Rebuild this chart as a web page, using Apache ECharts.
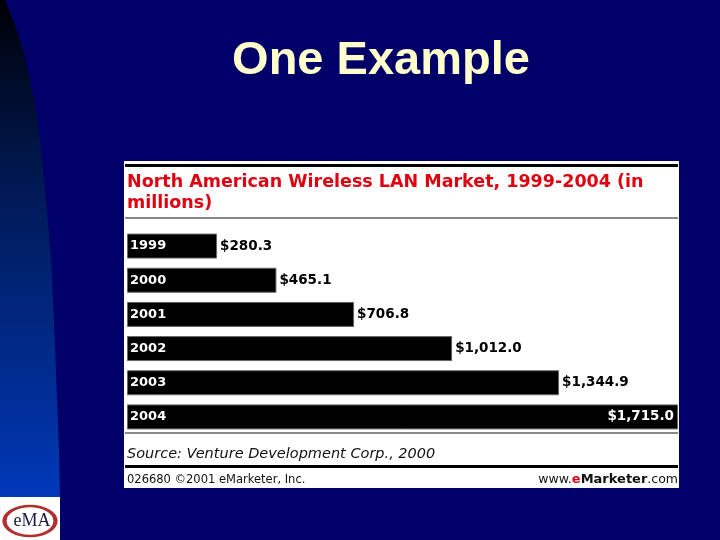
<!DOCTYPE html>
<html>
<head>
<meta charset="utf-8">
<script src="https://cdn.jsdelivr.net/npm/echarts@6/dist/echarts.min.js"></script>
<style>
html,body{margin:0;padding:0;background:#000068;}
#chart{width:720px;height:540px;}
</style>
</head>
<body>
<div id="chart"></div>
<script>
const years = ['1999', '2000', '2001', '2002', '2003', '2004'];
const values = [280.3, 465.1, 706.8, 1012.0, 1344.9, 1715.0];
const slideTitle = 'One Example';
const chartTitle = 'North American Wireless LAN Market, 1999-2004 (in\nmillions)';
const sourceText = 'Source: Venture Development Corp., 2000';
const footerLeft = '026680 \u00A92001 eMarketer, Inc.';

function fmt(v) {
  const parts = v.toFixed(1).split('.');
  parts[0] = parts[0].replace(/\B(?=(\d{3})+(?!\d))/g, ',');
  return '$' + parts.join('.');
}

const chart = echarts.init(document.getElementById('chart'));
const lastIdx = values.length - 1;
const barData = values.map((v, i) => {
  const item = { value: v };
  if (i === lastIdx) {
    item.label = { position: 'insideRight', color: '#ffffff', distance: 4 };
  }
  return item;
});

const valFont = 'DejaVu Sans';

chart.setOption({
  backgroundColor: '#000068',
  animation: false,
  grid: { left: 127, right: 42, top: 229, bottom: 106 },
  xAxis: { type: 'value', min: 0, max: 1715, show: false },
  yAxis: { type: 'category', data: years, inverse: true, show: false },
  graphic: [
    {
      type: 'polygon', z: 0, silent: true,
      shape: { points: [[0,0],[5,0],[15,25],[23,50],[30,80],[36,110],[41,150],[46,200],[51,260],[54,320],[57,400],[59,450],[60,497],[0,497]] },
      style: {
        fill: {
          type: 'linear', x: 0, y: 0, x2: 0, y2: 1,
          colorStops: [
            { offset: 0, color: '#000005' },
            { offset: 0.35, color: '#001850' },
            { offset: 1, color: '#0038b8' }
          ]
        }
      }
    },
    { type: 'rect', z: 0, silent: true, shape: { x: 0, y: 497, width: 60, height: 43 }, style: { fill: '#ffffff' } },
    { type: 'circle', z: 1, silent: true, x: 30, y: 521, scaleX: 1.7, scaleY: 1, shape: { cx: 0, cy: 0, r: 15 }, style: { fill: 'none', stroke: '#b03030', lineWidth: 2.5, strokeNoScale: true } },
    { type: 'text', z: 2, silent: true, style: { x: 32, y: 521, text: 'eMA', font: '18px Liberation Serif', fill: '#1a1a40', align: 'center', verticalAlign: 'middle' } },
    { type: 'text', z: 2, silent: true, style: { x: 381, y: 61, text: slideTitle, font: 'bold 47px Liberation Sans', fill: '#ffffcc', align: 'center', verticalAlign: 'middle' } },
    { type: 'rect', z: 0, silent: true, shape: { x: 124, y: 161, width: 555, height: 327 }, style: { fill: '#ffffff' } },
    { type: 'rect', z: 1, silent: true, shape: { x: 125, y: 164, width: 553, height: 3 }, style: { fill: '#000000' } },
    { type: 'text', z: 2, silent: true, style: { x: 127, y: 172, text: chartTitle, font: 'bold 17.5px DejaVu Sans', lineHeight: 21, fill: '#e00010', align: 'left', verticalAlign: 'top' } },
    { type: 'rect', z: 1, silent: true, shape: { x: 125, y: 217, width: 553, height: 2 }, style: { fill: '#888888' } },
    { type: 'rect', z: 1, silent: true, shape: { x: 125, y: 432, width: 553, height: 2 }, style: { fill: '#888888' } },
    { type: 'text', z: 2, silent: true, style: { x: 127, y: 454, text: sourceText, font: 'italic 14.5px DejaVu Sans', fill: '#111111', align: 'left', verticalAlign: 'middle' } },
    { type: 'rect', z: 1, silent: true, shape: { x: 125, y: 465, width: 553, height: 3 }, style: { fill: '#000000' } },
    { type: 'text', z: 2, silent: true, style: { x: 127, y: 480, text: footerLeft, font: '11.5px DejaVu Sans', fill: '#111111', align: 'left', verticalAlign: 'middle' } },
    {
      type: 'text', z: 2, silent: true,
      style: {
        x: 678, y: 480, align: 'right', verticalAlign: 'middle',
        text: 'www.{e|e}{b|Marketer}.com',
        font: '12.5px DejaVu Sans', fill: '#111111',
        rich: {
          e: { fill: '#e00010', fontWeight: 'bold', fontSize: 13, fontFamily: 'DejaVu Sans' },
          b: { fill: '#111111', fontWeight: 'bold', fontSize: 13, fontFamily: 'DejaVu Sans' }
        }
      }
    }
  ],
  series: [
    {
      type: 'bar',
      data: barData,
      barWidth: 25,
      z: 3,
      itemStyle: { color: '#000000', borderColor: '#666666', borderWidth: 1 },
      label: {
        show: true, position: 'right', distance: 3,
        formatter: p => fmt(p.value),
        color: '#000000', fontWeight: 'bold', fontSize: 13.5, fontFamily: valFont
      }
    },
    {
      type: 'bar',
      data: values,
      barWidth: 25,
      barGap: '-100%',
      z: 4,
      silent: true,
      itemStyle: { color: 'rgba(0,0,0,0)' },
      label: {
        show: true, position: 'insideLeft', distance: 3,
        formatter: '{b}',
        color: '#ffffff', fontWeight: 'bold', fontSize: 13, fontFamily: valFont
      }
    }
  ]
});
</script>
</body>
</html>
